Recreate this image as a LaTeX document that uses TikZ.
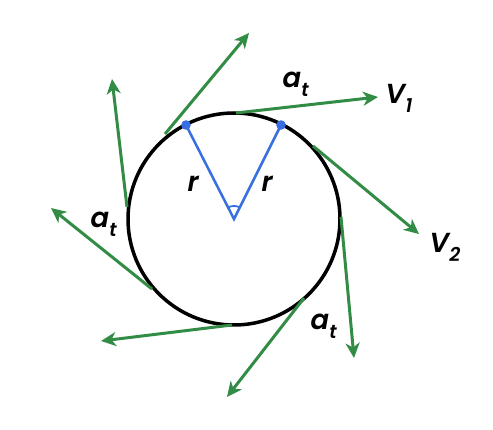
\documentclass[tikz,border=0pt]{standalone}
\usepackage{fontspec}
\setmainfont{Poppins}[FakeSlant=0.18]
\newfontfamily\lblfont{Poppins SemiBold}[FakeSlant=0.18]
\usetikzlibrary{arrows.meta,calc}
\definecolor{vgreen}{RGB}{50,140,70}
\definecolor{rblue}{RGB}{55,110,225}
\newcommand{\lowsub}[2]{#1\kern0.5pt\raisebox{-9pt}{\fontsize{19}{19}\selectfont #2}}
\tikzset{
  vec/.style={draw=vgreen, line width=3pt, -{Stealth[length=15pt,width=14pt,inset=4.5pt]}},
  rad/.style={draw=rblue, line width=2.5pt},
  lbl/.style={font=\lblfont\fontsize{27.5}{27.5}\selectfont, inner sep=0pt},
}
\begin{document}
\begin{tikzpicture}[x=1pt,y=-1pt]
\useasboundingbox (0,0) rectangle (493,430);
\coordinate (O) at (234,219);
\node[circle, draw=black, line width=3.5pt, minimum size=212pt, inner sep=0pt] (C) at (O) {};
% tangent points and tips
\coordinate (p1) at (236,113);  \coordinate (t1) at (378,97);
\coordinate (p2) at (313,146);  \coordinate (t2) at (419,234);
\coordinate (p3) at (341,217);  \coordinate (t3) at (354,358);
\coordinate (p4) at (304,298);  \coordinate (t4) at (227,397);
\coordinate (p5) at (232,325);  \coordinate (t5) at (101,341);
\coordinate (p6) at (152,289);  \coordinate (t6) at (51,208);
\coordinate (p7) at (127,207);  \coordinate (t7) at (112,79);
\coordinate (p8) at (165,134);  \coordinate (t8) at (249,33);
\foreach \i in {1,...,8} \draw[vec] (p\i) -- (t\i);
% radii
\coordinate (b1) at (186,125);
\coordinate (b2) at (281,125);
\draw[rad, line join=miter] (b1) -- (O) -- (b2);
\draw[rblue, line width=1.8pt] ($(O)!13pt!(b1)$) arc[start angle=117, end angle=63, radius=13pt];
\fill[rblue] (b1) circle (4.8pt);
\fill[rblue] (b2) circle (4.8pt);
% labels
\node[lbl, anchor=base west] (r1) at (186,192) {r};
\node[lbl, anchor=base west] (r2) at (260,192) {r};
\node[lbl, anchor=base west] (a1) at (281,88) {\lowsub{a}{t}};
\node[lbl, anchor=base west] (v1) at (384,104) {\lowsub{V}{1}};
\node[lbl, anchor=base west] (v2) at (428,253) {\lowsub{V}{2}};
\node[lbl, anchor=base west] (a2) at (89,228) {\lowsub{a}{t}};
\node[lbl, anchor=base west] (a3) at (309,330) {\lowsub{a}{t}};
\end{tikzpicture}
\end{document}
